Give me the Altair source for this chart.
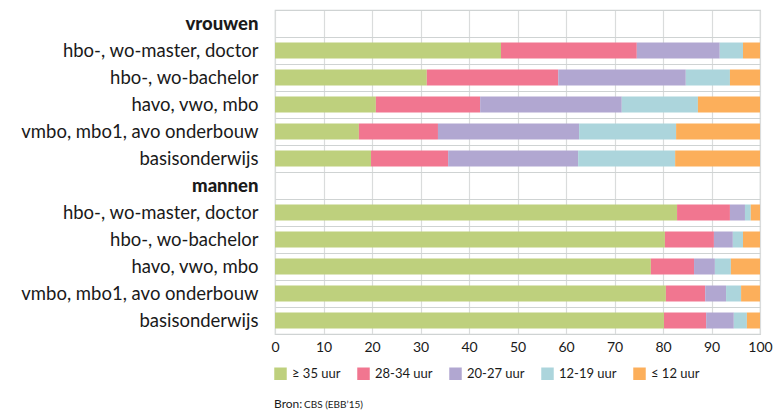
import altair as alt
import pandas as pd

rows = [
    "vh|vrouwen",
    "v1|hbo-, wo-master, doctor",
    "v2|hbo-, wo-bachelor",
    "v3|havo, vwo, mbo",
    "v4|vmbo, mbo1, avo onderbouw",
    "v5|basisonderwijs",
    "mh|mannen",
    "m1|hbo-, wo-master, doctor",
    "m2|hbo-, wo-bachelor",
    "m3|havo, vwo, mbo",
    "m4|vmbo, mbo1, avo onderbouw",
    "m5|basisonderwijs",
]
bar_rows = [r for r in rows if not r.startswith(("vh", "mh"))]

categories = ["≥ 35 uur", "28-34 uur", "20-27 uur", "12-19 uur", "≤ 12 uur"]
colors = ["#bed07d", "#f17690", "#b1a7d1", "#acd5dc", "#fcaf5b"]

ge35 = [46.6, 31.3, 20.8, 17.3, 19.8, 82.9, 80.4, 77.5, 80.6, 80.2]
h28_34 = [28.0, 27.1, 21.5, 16.3, 15.9, 10.9, 10.1, 8.9, 8.1, 8.7]
h20_27 = [17.1, 26.3, 29.2, 29.1, 26.8, 3.1, 3.9, 4.3, 4.3, 5.7]
h12_19 = [4.8, 9.1, 15.7, 20.0, 20.0, 1.2, 2.1, 3.3, 3.1, 2.7]
le12 = [3.5, 6.2, 12.8, 17.3, 17.5, 1.9, 3.5, 6.0, 3.9, 2.7]

x_ticks = [0, 10, 20, 30, 40, 50, 60, 70, 80, 90, 100]

series = [ge35, h28_34, h20_27, h12_19, le12]
records = []
for ci, (cat, vals) in enumerate(zip(categories, series)):
    for r, v in zip(bar_rows, vals):
        records.append({"row": r, "cat": cat, "idx": ci, "value": v})
df = pd.DataFrame(records)

FONT = "Lato"
TXT = "#1a1a1a"
GRID = "#cfd3d3"

bars = alt.Chart(df).mark_bar(size=16).encode(
    x=alt.X("value:Q", stack="zero",
            scale=alt.Scale(domain=[0, 100], nice=False),
            axis=alt.Axis(values=x_ticks, grid=True, gridColor="#dadcdc", gridWidth=1.2,
                          ticks=False, domain=False, labelFontSize=14, labelColor=TXT,
                          labelFont=FONT, labelPadding=6, title=None,
                          labelFlush=False)),
    y=alt.Y("row:N", sort=rows,
            scale=alt.Scale(domain=rows, paddingInner=0, paddingOuter=0),
            axis=alt.Axis(title=None, grid=True, tickBand="extent", gridColor=GRID,
                          gridWidth=1.2, ticks=False, domain=False,
                          labelExpr="split(datum.value, '|')[1]",
                          labelFont=FONT, labelFontSize=18.5, labelColor=TXT,
                          labelPadding=17, labelLimit=300,
                          labelFontWeight={"condition": {"test": "datum.value == 'vh|vrouwen' || datum.value == 'mh|mannen'", "value": 900}, "value": 400})),
    color=alt.Color("cat:N", sort=categories,
                    scale=alt.Scale(domain=categories, range=colors),
                    legend=alt.Legend(title=None, orient="none", legendX=-1, legendY=357,
                                      direction="horizontal", symbolType="square",
                                      symbolSize=156, symbolStrokeWidth=0,
                                      symbolOpacity=1, labelFont=FONT, labelFontSize=13,
                                      labelColor=TXT, labelOffset=5, columnPadding=16,
                                      padding=0)),
    order=alt.Order("idx:Q"),
)

src1 = alt.Chart(pd.DataFrame({"t": ["Bron:"]})).mark_text(
    align="left", baseline="middle", font=FONT, fontSize=12, color=TXT
).encode(x=alt.value(-1), y=alt.value(394), text="t:N")

src2 = alt.Chart(pd.DataFrame({"t": ["CBS (EBB’15)"]})).mark_text(
    align="left", baseline="middle", font=FONT, fontSize=10, color=TXT
).encode(x=alt.value(29), y=alt.value(394.5), text="t:N")

chart = alt.layer(bars, src1, src2).properties(
    width=485, height=324,
    padding={"left": 267, "top": 2, "right": 14, "bottom": 82},
    autosize=alt.AutoSizeParams(type="none"),
).configure_view(stroke=GRID, strokeWidth=1.2)

chart.save("out.html", embed_options={"renderer": "svg", "actions": False})
